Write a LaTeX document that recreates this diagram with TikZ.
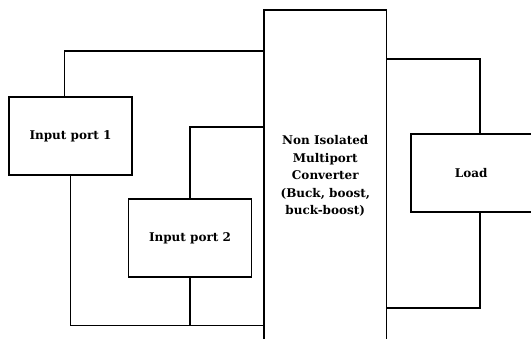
\documentclass[tikz,border=0pt]{standalone}
\usepackage{fontspec}
\setmainfont{DejaVu Serif}
\usepackage{tikz}
\usetikzlibrary{positioning, calc}

\begin{document}
\begin{tikzpicture}[x=1pt, y=-1pt, line width=1.7pt,
  font=\fontsize{12}{17.4}\selectfont\bfseries,
  porta/.style={rectangle,draw,minimum width=123pt,minimum height=78pt,
                inner sep=0pt,align=center},
  conversor/.style={rectangle,draw,minimum width=122.5pt,minimum height=332pt,
                inner sep=0pt,align=center}]

  \clip (0,0) rectangle (531,338);

  % --- blocos ---
  \node[porta] (in1) at (70.5,136.3) {Input port 1};
  \node[porta] (in2) at (190,238) {Input port 2};
  \node[conversor] (conv) at (325.3,176) {Non Isolated\\ Multiport\\ Converter\\ (Buck, boost,\\ buck-boost)};
  \node[porta,minimum width=121pt] (load) at (471.2,173) {Load};

  % --- entradas ---
  \draw ([xshift=-6pt]in1.north) |- ([yshift=125pt]conv.west);
  \draw (in2.north) |- ([yshift=49pt]conv.west);
  \draw (in1.south) |- ([yshift=-149.5pt]conv.west);
  \draw (in2.south) -- ++(0,48.5);

  % --- carga ---
  \draw ([yshift=116.7pt]conv.east) -| ([xshift=9pt]load.north);
  \draw ([xshift=9pt]load.south) |- ([yshift=-132pt]conv.east);
\end{tikzpicture}
\end{document}
